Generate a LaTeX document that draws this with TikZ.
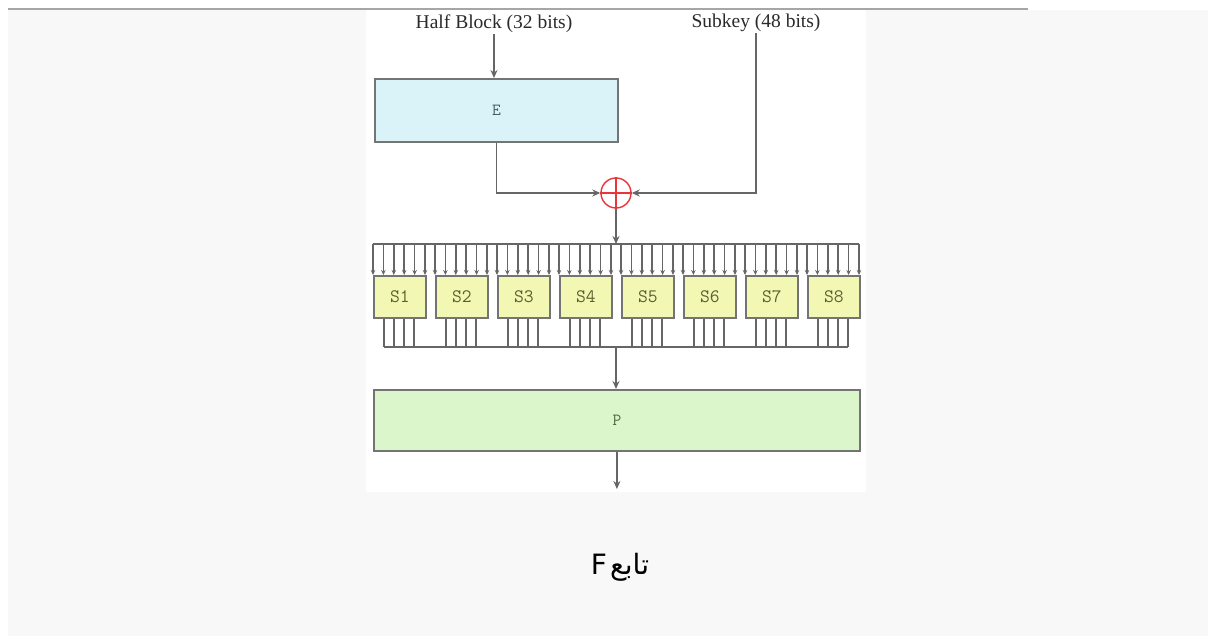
\documentclass[tikz,border=0pt]{standalone}
\usepackage{fontspec}
\setmainfont{Liberation Serif}
\newfontfamily\arabicfont[Script=Arabic]{DejaVu Sans}
\TeXXeTstate=1
\usetikzlibrary{arrows.meta}
\definecolor{pagebg}{HTML}{F8F8F8}
\definecolor{topline}{HTML}{A6A6A6}
\definecolor{wirec}{HTML}{666666}
\definecolor{boxborder}{HTML}{747474}
\definecolor{efill}{HTML}{DAF3F8}
\definecolor{sfill}{HTML}{F2F8B4}
\definecolor{pfill}{HTML}{DBF6CA}
\definecolor{etext}{HTML}{4A5A5C}
\definecolor{stext}{HTML}{5E5E30}
\definecolor{ptext}{HTML}{4A6A3C}
\definecolor{xorred}{HTML}{E8343A}
\definecolor{lbltext}{HTML}{2A2A2A}
\tikzset{
  wire/.style={draw=wirec, line width=1.6pt},
  bigarrow/.style={-{Stealth[length=8pt,width=7pt]}},
  smallarrow/.style={-{Stealth[length=5pt,width=4.5pt]}},
  lbl/.style={font=\fontsize{19.5}{22}\selectfont, text=lbltext, inner sep=1pt},
  ebox/.style={draw=boxborder, line width=1.8pt, fill=efill, minimum width=243pt, minimum height=63pt, inner sep=0pt, anchor=north west, font=\ttfamily\fontsize{17}{19}\selectfont, text=etext},
  sbox/.style={draw=boxborder, line width=1.6pt, fill=sfill, minimum width=52pt, minimum height=42pt, inner sep=0pt, anchor=north west, font=\ttfamily\fontsize{19}{21}\selectfont, text=stext},
  pbox/.style={draw=boxborder, line width=1.8pt, fill=pfill, minimum width=486pt, minimum height=61pt, inner sep=0pt, anchor=north west, font=\ttfamily\fontsize{17}{19}\selectfont, text=ptext},
  xorc/.style={circle, draw=xorred, line width=1.4pt, minimum size=30pt, inner sep=0pt},
  caption/.style={font=\arabicfont\fontsize{28}{32}\selectfont, text=black, inner sep=0pt}
}
\begin{document}
\begin{tikzpicture}[x=1pt,y=-1pt]
\useasboundingbox (0,0) rectangle (1208,636);
\fill[pagebg] (8,10) rectangle (1208,636);
\fill[white] (366,10) rectangle (866,492);
\draw[topline, line width=2pt] (8,9) -- (1028,9);

% labels
\node[lbl] (hb) at (494,24) {Half Block (32 bits)};
\node[lbl] (sk) at (756,23) {Subkey (48 bits)};

% E box
\node[ebox] (E) at (374,78) {E};
\draw[wire, bigarrow] (hb.south) -- (hb.south |- E.north);

% XOR
\node[xorc] (xor) at (616,193) {};
\draw[draw=xorred, line width=1.4pt] (xor.north) -- (xor.south) (xor.west) -- (xor.east);
\draw[wire, bigarrow] (E.south) |- (xor.west);
\draw[wire, bigarrow] (sk.south) |- (xor.east);

% top bus
\coordinate (busL) at (373,244);
\coordinate (busR) at (859,244);
\draw[wire] (busL) -- (busR);
\draw[wire, bigarrow] (xor.south) -- (xor.south |- busL);

% S boxes
\foreach \i in {1,...,8}{
  \pgfmathsetmacro\lx{373+62*(\i-1)}
  \pgfmathsetmacro\cx{\lx+26}
  \node[sbox] (s\i) at (\lx,275) {S\i};
  \foreach \k in {0,...,5}{
    \coordinate (in\i\k) at (\lx+10.4*\k,244);
    \draw[wire, smallarrow] (in\i\k) -- (in\i\k |- s\i.north);
  }
  \foreach \k/\o in {1/-15,2/-5,3/5,4/15}{
    \coordinate (out\i\k) at (\cx+\o,347);
    \draw[wire] (s\i.south -| out\i\k) -- (out\i\k);
  }
}

% bottom bus
\coordinate (bL) at (384,347);
\coordinate (bR) at (848,347);
\draw[wire] (bL) -- (bR);

% P box
\node[pbox] (P) at (373,389) {P};
\coordinate (bC) at (616,347);
\draw[wire, bigarrow] (bC) -- (bC |- P.north);
\coordinate (pout) at (616,489);
\draw[wire, bigarrow] (P.south) -- (P.south |- pout);

% caption
\node[caption, anchor=base] (cap) at (620,574) {\beginR تابع\hspace{3pt}\beginL F\endL\endR};
\end{tikzpicture}
\end{document}
